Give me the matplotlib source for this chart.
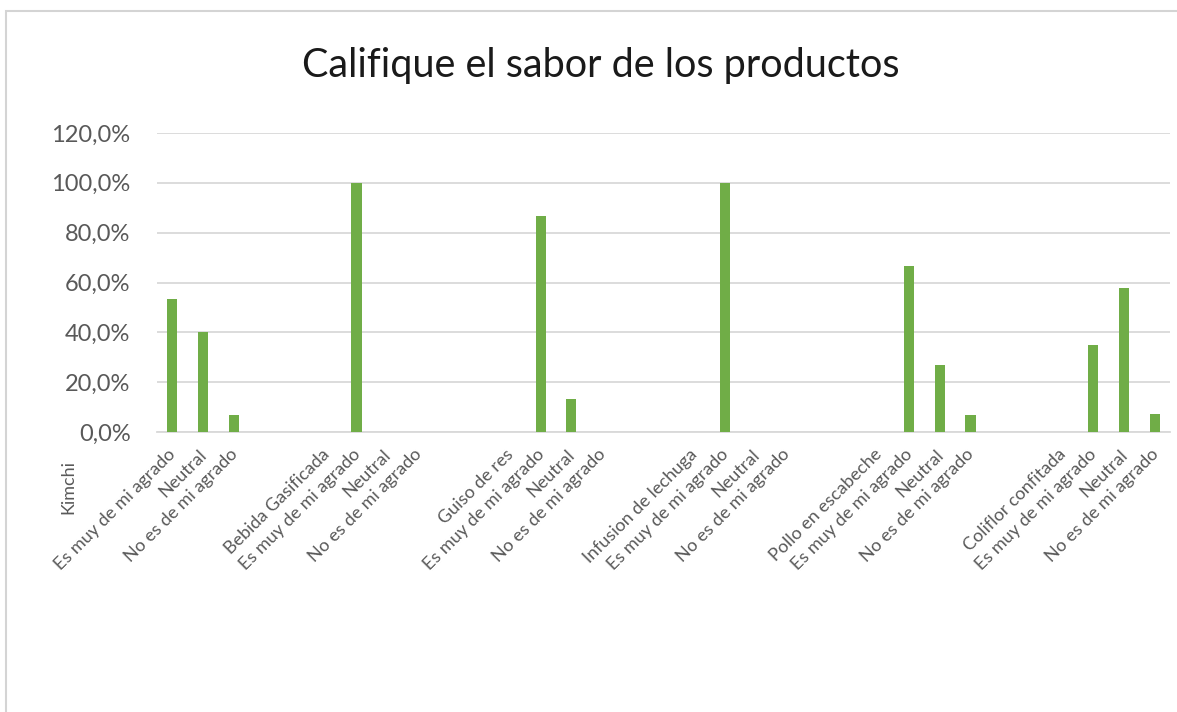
import matplotlib
matplotlib.use("Agg")
import matplotlib.pyplot as plt
from matplotlib.patches import Rectangle
from matplotlib.transforms import offset_copy

products = ["Kimchi", "Bebida Gasificada", "Guiso de res",
            "Infusion de lechuga", "Pollo en escabeche", "Coliflor confitada"]
responses = ["Es muy de mi agrado", "Neutral", "No es de mi agrado"]
kimchi = [53.3, 40.0, 6.7]
bebida = [100.0, 0.0, 0.0]
guiso = [86.7, 13.3, 0.0]
infusion = [100.0, 0.0, 0.0]
pollo = [66.7, 26.7, 6.7]
coliflor = [35.0, 57.9, 7.1]
values_by_product = [kimchi, bebida, guiso, infusion, pollo, coliflor]
yticks = [0, 20, 40, 60, 80, 100, 120]
title = "Califique el sabor de los productos"

# build category sequence: (product label), 3 responses, 2 blanks
categories = []
values = []
for i, (p, vals) in enumerate(zip(products, values_by_product)):
    if i > 0:
        categories.append(p)
        values.append(None)
    for r, v in zip(responses, vals):
        categories.append(r)
        values.append(v)
    if i < len(products) - 1:
        categories += ["", ""]
        values += [None, None]

W, H, DPI = 1177, 712, 100
fig = plt.figure(figsize=(W / DPI, H / DPI), dpi=DPI)
fig.patch.set_facecolor("white")

# chart border
fig.add_artist(Rectangle((6 / W, -0.05), 1.2, (H - 11) / H + 0.05,
                         transform=fig.transFigure, fill=False,
                         edgecolor="#d4d4d4", linewidth=1.5))

left, right = 157 / W, 1170 / W
bottom, top = 1 - 432 / H, 1 - 133 / H
ax = fig.add_axes([left, bottom, right - left, top - bottom])

FONT = "Lato"
TICKC = "#595959"
GREEN = "#70AD47"

xs = list(range(len(categories)))
bx = [x for x, v in zip(xs, values) if v is not None]
bv = [v for v in values if v is not None]
ax.bar(bx, bv, width=0.33, color=GREEN, zorder=3)

ax.set_xlim(-0.5, len(categories) - 0.5)
ax.set_ylim(0, 120)
ax.set_yticks(yticks)
ax.set_yticklabels([f"{t:.1f}%".replace(".", ",") for t in yticks],
                   fontname=FONT, fontsize=17, color=TICKC)
ax.tick_params(axis="y", length=0, pad=19)
ax.grid(axis="y", color="#d9d9d9", linewidth=1.3, zorder=0)
ax.set_axisbelow(True)
for s in ["top", "right", "left"]:
    ax.spines[s].set_visible(False)
ax.spines["bottom"].set_color("#d9d9d9")
ax.spines["bottom"].set_linewidth(1.3)

ax.set_xticks([])
trans = offset_copy(ax.get_xaxis_transform(), fig=fig, x=1, y=-20, units="dots")
for x, lab in zip(xs, categories):
    if lab:
        ax.text(x, 0, lab, transform=trans, rotation=45, rotation_mode="anchor",
                ha="right", va="center", fontname=FONT, fontsize=13,
                color=TICKC)

# first product label (drawn vertically at far left, as in the original)
fig.text(68 / W, 1 - 460 / H, products[0], rotation=90, ha="center", va="top",
         fontname=FONT, fontsize=13, color=TICKC)

fig.text(601 / W, 1 - 66 / H, title, ha="center", va="center",
         fontname=FONT, fontsize=28.5, color="#1a1a1a")

fig.savefig("out.png", dpi=DPI, facecolor="white")
